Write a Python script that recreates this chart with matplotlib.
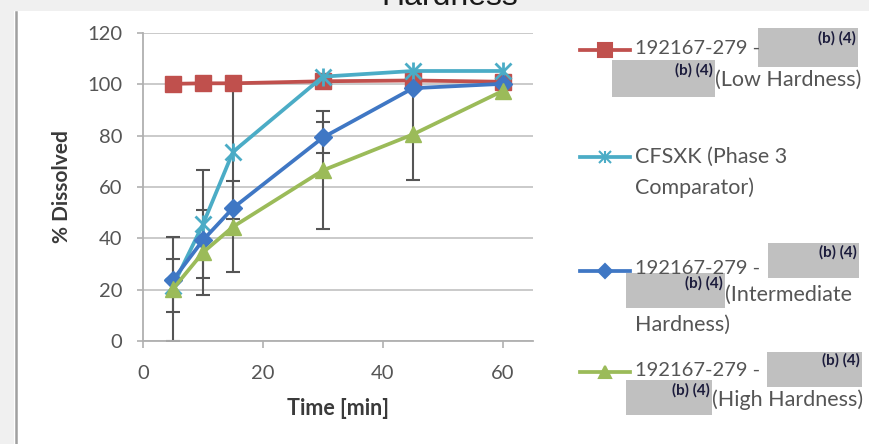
import matplotlib
matplotlib.use("Agg")
import matplotlib.pyplot as plt
from matplotlib.patches import Rectangle
from matplotlib.lines import Line2D

# ---------------- data ----------------
time_min = [5, 10, 15, 30, 45, 60]
low_hard = [100.2, 100.4, 100.4, 101.2, 101.5, 101.0]
cfsxk = [21.5, 45.5, 73.7, 103.0, 105.2, 105.2]
inter_hard = [23.8, 39.3, 51.8, 79.3, 98.5, 100.2]
high_hard = [20.3, 34.5, 44.5, 66.5, 80.5, 97.5]

cfsxk_err = [10.3, 21.0, 26.0, 0, 0, 0]
inter_err = [0, 0, 0, 6.2, 0, 0]
high_err = [20.4, 16.5, 17.8, 23.0, 17.8, 0]

y_ticks = [0, 20, 40, 60, 80, 100, 120]
x_ticks = [0, 20, 40, 60]
title_text = "Hardness"
x_label = "Time [min]"
y_label = "% Dissolved"

# ---------------- styles ----------------
W, H = 870, 444
FONT = "Lato"
TXT = "#555555"
RED = "#C0504D"
CYAN = "#4BACC6"
BLUE = "#3F77C4"
GREEN = "#9BBB59"
ERR = "#555555"

def fx(x):
    return x / W

def fy(y):
    return 1 - y / H

fig = plt.figure(figsize=(W / 100, H / 100), dpi=100, facecolor="white")

# page background pieces
fig.add_artist(Rectangle((0, fy(11)), 1, 11 / H, transform=fig.transFigure,
                         facecolor="#f0f0f0", edgecolor="none", zorder=0))
fig.add_artist(Rectangle((0, 0), fx(14), fy(11), transform=fig.transFigure,
                         facecolor="#f0f0f0", edgecolor="none", zorder=0))
fig.add_artist(Line2D([fx(16), fx(16)], [0, fy(12)], transform=fig.transFigure,
                      color="#a0a0a0", lw=1.8, zorder=1))
fig.text(fx(450), fy(5), title_text, ha="center", va="baseline",
         fontsize=23, family="Liberation Sans", color="#1a1a1a")

ax = fig.add_axes([fx(143), fy(341), (533 - 143) / W, (341 - 33) / H])
ax.set_facecolor("white")
ax.set_xlim(0, 65)
ax.set_ylim(0, 120)
ax.set_xticks(x_ticks)
ax.set_yticks(y_ticks)
ax.grid(axis="y", color="#c6c6c6", lw=1.3, zorder=0)
ax.set_axisbelow(True)
for s in ["top", "right"]:
    ax.spines[s].set_visible(False)
for s in ["left", "bottom"]:
    ax.spines[s].set_color("#b0b0b0")
    ax.spines[s].set_linewidth(1.3)
ax.tick_params(axis="both", direction="out", color="#b0b0b0", width=1.2,
               labelcolor=TXT, labelsize=14.5)
ax.tick_params(axis="y", length=4, pad=11)
ax.tick_params(axis="x", length=5, pad=12)
for lab in ax.get_xticklabels() + ax.get_yticklabels():
    lab.set_family(FONT)
ax.set_xlabel(x_label, family=FONT, fontsize=15.5, fontweight="bold",
              color="#3a3a3a", labelpad=12)
ax.set_ylabel(y_label, family=FONT, fontsize=15, fontweight="bold",
              color="#3a3a3a", labelpad=11)

# error bars
def errs(vals, err, color):
    xs = [t for t, e in zip(time_min, err) if e > 0]
    ys = [v for v, e in zip(vals, err) if e > 0]
    es = [e for e in err if e > 0]
    ax.errorbar(xs, ys, yerr=es, fmt="none", ecolor=color, elinewidth=1.5,
                capsize=5, capthick=1.5, zorder=2)

errs(cfsxk, cfsxk_err, ERR)
errs(inter_hard, inter_err, ERR)
errs(high_hard, high_err, ERR)

lw = 2.7
ax.plot(time_min, low_hard, color=RED, lw=lw, marker="s", ms=11,
        mfc=RED, mec=RED, zorder=3)
ax.plot(time_min, cfsxk, color=CYAN, lw=lw, marker="x", ms=11, mew=2,
        mec=CYAN, zorder=4)
ax.plot(time_min, cfsxk, ls="none", marker="|", ms=13, mew=2,
        mec=CYAN, zorder=4)
ax.plot(time_min, inter_hard, color=BLUE, lw=lw, marker="D", ms=9,
        mfc=BLUE, mec=BLUE, zorder=5)
ax.plot(time_min, high_hard, color=GREEN, lw=lw, marker="^", ms=11,
        mfc=GREEN, mec=GREEN, zorder=6)

# ---------------- manual legend ----------------
def leg_line(y, color, marker, ms, extra=None):
    fig.add_artist(Line2D([fx(580), fx(630)], [fy(y), fy(y)],
                          transform=fig.transFigure, color=color, lw=2.7,
                          zorder=3))
    fig.add_artist(Line2D([fx(605)], [fy(y)], transform=fig.transFigure,
                          ls="none", marker=marker, ms=ms, mfc=color,
                          mec=color, mew=1.5, zorder=4))
    if extra:
        fig.add_artist(Line2D([fx(605)], [fy(y)], transform=fig.transFigure,
                              ls="none", marker=extra, ms=ms, mec=color,
                              mew=1.5, zorder=4))

def ltext(x, y, s, size=15.5):
    fig.text(fx(x), fy(y), s, ha="left", va="center", family=FONT,
             fontsize=size, color=TXT, zorder=7)

def redact(x0, y0, x1, y1, tx, ty):
    fig.add_artist(Rectangle((fx(x0), fy(y1)), (x1 - x0) / W, (y1 - y0) / H,
                             transform=fig.transFigure, facecolor="#c0c0c0",
                             edgecolor="none", zorder=5))
    fig.text(fx(tx), fy(ty), "(b) (4)", ha="right", va="center",
             family=FONT, fontsize=11, fontweight="bold",
             color="#1c1c3c", zorder=8)

# series 1
leg_line(50, RED, "s", 10)
ltext(635, 49, "192167-279 -", 14.5)
redact(758, 28, 858, 67, 856, 38)
redact(612, 60, 715, 97, 713, 70)
ltext(715, 80, "(Low Hardness)")

# series 2
leg_line(157, CYAN, "x", 9, extra="|")
ltext(635, 157, "CFSXK (Phase 3")
ltext(635, 188, "Comparator)")

# series 3
leg_line(271, BLUE, "D", 7)
ltext(635, 268, "192167-279 -", 14.5)
redact(768, 243, 859, 278, 857, 252)
redact(626, 273, 725, 308, 723, 283)
ltext(725, 295, "(Intermediate")
ltext(635, 325, "Hardness)")

# series 4
leg_line(372, GREEN, "^", 9)
ltext(635, 370, "192167-279 -", 14.5)
redact(767, 352, 862, 387, 860, 360)
redact(626, 380, 712, 415, 710, 390)
ltext(712, 400, "(High Hardness)")

fig.savefig("out.png", dpi=100, facecolor="white")
